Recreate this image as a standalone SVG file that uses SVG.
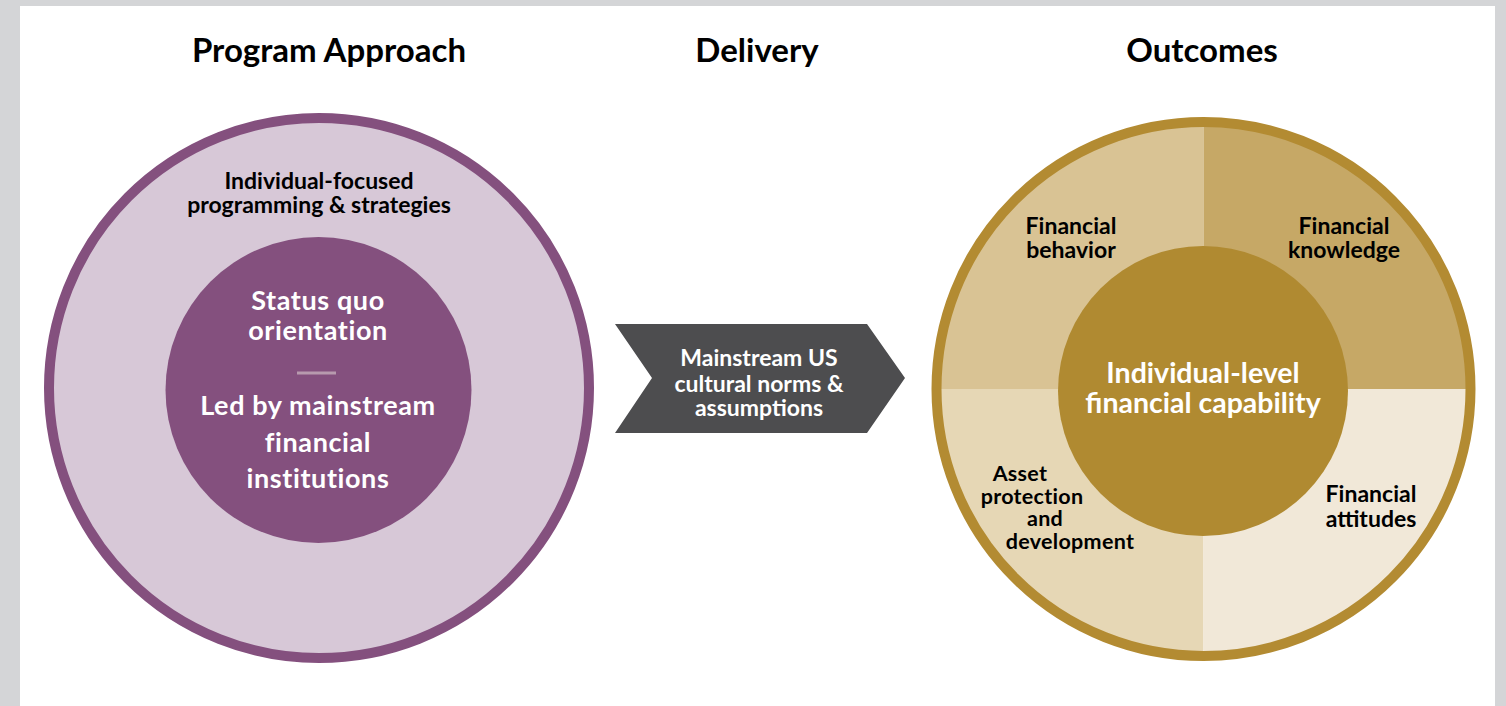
<svg xmlns="http://www.w3.org/2000/svg" width="1506" height="706" viewBox="0 0 1506 706">
<style>
text{font-family:Lato,"Liberation Sans",sans-serif;font-weight:700;text-anchor:middle}
.title{font-size:33px;fill:#000}
.dark{font-size:23px;fill:#000}
.asset{font-size:21.5px;letter-spacing:0.3px}
.white{fill:#fff}
.inner{font-size:27px;letter-spacing:0.6px}
</style>
<rect x="0" y="0" width="1506" height="706" fill="#d4d5d7"/>
<rect x="20" y="6" width="1475" height="700" fill="#fff"/>
<g id="headers">
<text class="title" x="329" y="62">Program Approach</text>
<text class="title" x="757" y="62">Delivery</text>
<text class="title" x="1202" y="62">Outcomes</text>
</g>
<g id="program-approach">
<circle cx="319" cy="388" r="270" fill="#d7c8d7" stroke="#84507e" stroke-width="10"/>
<text class="dark" x="319" y="189">Individual-focused<tspan x="319" y="213">programming &amp; strategies</tspan></text>
<circle cx="318.5" cy="390" r="153" fill="#84507e"/>
<text class="white inner" x="318" y="310">Status quo<tspan x="318" y="340">orientation</tspan></text>
<line x1="297" y1="373" x2="336" y2="373" stroke="#b79aae" stroke-width="3"/>
<text class="white inner" x="318" y="415">Led by mainstream<tspan x="318" y="452">financial</tspan><tspan x="318" y="488">institutions</tspan></text>
</g>
<g id="connectors">
<g id="delivery">
<polygon points="615,324 867,324 905,378 867,433 615,433 652,378" fill="#4d4d4f"/>
<text class="white" font-size="23" x="759" y="366">Mainstream US<tspan x="759" y="392">cultural norms &amp;</tspan><tspan x="759" y="416">assumptions</tspan></text>
</g>
</g>
<g id="outcomes">
<path d="M1203.5,389 V122 A267,267 0 0 0 936.5,389 Z" fill="#d9c394"/>
<path d="M1203.5,389 V122 A267,267 0 0 1 1470.5,389 Z" fill="#c6a866"/>
<path d="M1203.5,389 V656 A267,267 0 0 1 936.5,389 Z" fill="#e6d7b5"/>
<path d="M1203.5,389 V656 A267,267 0 0 0 1470.5,389 Z" fill="#f1e8d8"/>
<circle cx="1203.5" cy="389" r="267" fill="none" stroke="#b38b32" stroke-width="10"/>
<circle cx="1203" cy="391" r="145" fill="#b08a31"/>
<text class="white" font-size="28.5" x="1203" y="383">Individual-level<tspan x="1203" y="413">financial capability</tspan></text>
<text class="dark" x="1071" y="234">Financial<tspan x="1071" y="258">behavior</tspan></text>
<text class="dark" x="1344" y="234">Financial<tspan x="1344" y="258">knowledge</tspan></text>
<text class="dark asset" x="1020" y="481">Asset<tspan x="1032" y="503.5">protection</tspan><tspan x="1045" y="526">and</tspan><tspan x="1070" y="548.5">development</tspan></text>
<text class="dark" x="1371" y="502">Financial<tspan x="1371" y="527">attitudes</tspan></text>
</g>
</svg>
